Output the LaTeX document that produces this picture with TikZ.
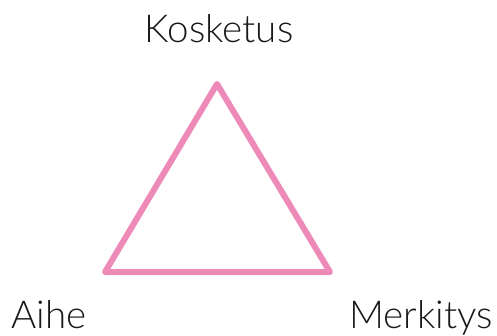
\documentclass[tikz,border=0pt]{standalone}
\usepackage{fontspec}
\setmainfont{Lato}[UprightFont=* Light]
\definecolor{tripink}{RGB}{238,138,184}
\begin{document}
\begin{tikzpicture}[x=1pt,y=-1pt,
  lbl/.style={font=\fontsize{38.5}{40}\selectfont, text=black!90, inner sep=0pt, anchor=base},
  side/.style={draw=tripink, line width=6pt, line join=round, line cap=round}]
\useasboundingbox (0,0) rectangle (497,336);
\coordinate (top) at (217,84);
\coordinate (bl) at (105,272);
\coordinate (br) at (330,272);
\draw[side] (top) -- (br) -- (bl) -- cycle;
\node[lbl] (k) at (219,43) {Kosketus};
\node[lbl] (a) at (49,328) {Aihe};
\node[lbl] (m) at (421,328) {Merkitys};
\end{tikzpicture}
\end{document}
